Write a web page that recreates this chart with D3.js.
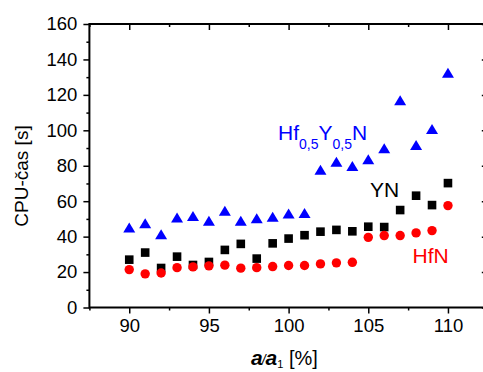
<!DOCTYPE html>
<html>
<head>
<meta charset="utf-8">
<script src="https://cdn.jsdelivr.net/npm/d3@7"></script>
<style>
	body { margin: 0; background: #fff; }
	svg { display: block; font-family: Arial, "Liberation Sans", sans-serif; }
	.axis path { display: none; }
	.axis line { stroke: #000; stroke-width: 1.5; }
	.axis text { font-size: 18.5px; fill: #000; }
</style>
</head>
<body>
<svg></svg>
<script>
// lattice parameter ratio a/a1 in %
const ratio = [90, 91, 92, 93, 94, 95, 96, 97, 98, 99, 100, 101, 102, 103, 104, 105, 106, 107, 108, 109, 110]
// CPU time in seconds
const cpuYN = [27, 31, 22.3, 28.7, 24, 25.7, 32.5, 35.9, 27.6, 36.2, 38.9, 40.8, 42.8, 43.8, 43, 45.6, 45.4, 55, 63.1, 57.8, 70.2]
const cpuHfN = [21.4, 19, 19.5, 22.5, 22.9, 23.5, 23.9, 22.2, 22.5, 23.1, 23.7, 23.7, 24.6, 25.2, 25.5, 39.6, 40.6, 40.6, 42.1, 43.4, 57.5]
const cpuHfYN = [45.1, 47.5, 41.4, 50.8, 51.7, 48.9, 54.6, 49, 50.4, 51.2, 53.1, 53.3, 77.7, 82.3, 79.8, 83.7, 89.9, 116.9, 91.7, 100.8, 132.5]

const xMajor = [90, 95, 100, 105, 110]
const xMinor = [87.5, 92.5, 97.5, 102.5, 107.5, 112.5]
const yMajor = [0, 20, 40, 60, 80, 100, 120, 140, 160]
const yMinor = [10, 30, 50, 70, 90, 110, 130, 150]

const W = 483, H = 372
const box = {left: 89.4, right: 487.8, top: 24, bottom: 307.5}

const svg = d3.select('svg').attr('width', W).attr('height', H)

const x = d3.scaleLinear().domain([87.5, 112.5]).range([box.left, box.right])
const y = d3.scaleLinear().domain([0, 160]).range([box.bottom, box.top])

// axes: major/minor ticks drawn separately, outward on bottom/left, inward on top/right
function addAxis(axis, tx, ty) {
	svg.append('g').attr('class', 'axis').attr('transform', `translate(${tx},${ty})`).call(axis)
}
addAxis(d3.axisBottom(x).tickValues(xMajor).tickSize(6).tickPadding(5), 0, box.bottom)
addAxis(d3.axisBottom(x).tickValues(xMinor).tickSize(3).tickFormat(''), 0, box.bottom)
addAxis(d3.axisLeft(y).tickValues(yMajor).tickSize(6).tickPadding(6), box.left, 0)
addAxis(d3.axisLeft(y).tickValues(yMinor).tickSize(3).tickFormat(''), box.left, 0)
addAxis(d3.axisBottom(x).tickValues(xMajor).tickSize(6).tickFormat(''), 0, box.top)
addAxis(d3.axisBottom(x).tickValues(xMinor).tickSize(3).tickFormat(''), 0, box.top)
addAxis(d3.axisLeft(y).tickValues(yMajor).tickSize(6).tickFormat(''), box.right, 0)
addAxis(d3.axisLeft(y).tickValues(yMinor).tickSize(3).tickFormat(''), box.right, 0)

svg.append('rect')
	.attr('x', box.left).attr('y', box.top)
	.attr('width', box.right - box.left).attr('height', box.bottom - box.top)
	.attr('fill', 'none').attr('stroke', '#000').attr('stroke-width', 2)

// markers
const tri = 'M0,-5L6,5L-6,5Z'
svg.append('g').selectAll('path')
	.data(ratio.map((r, i) => [r, cpuHfYN[i]]))
	.join('path')
	.attr('d', tri)
	.attr('transform', d => `translate(${x(d[0])},${y(d[1])})`)
	.attr('fill', '#0000ff')

svg.append('g').selectAll('rect')
	.data(ratio.map((r, i) => [r, cpuYN[i]]))
	.join('rect')
	.attr('x', d => x(d[0]) - 4.3).attr('y', d => y(d[1]) - 4.3)
	.attr('width', 8.6).attr('height', 8.6)
	.attr('fill', '#000')

svg.append('g').selectAll('circle')
	.data(ratio.map((r, i) => [r, cpuHfN[i]]))
	.join('circle')
	.attr('cx', d => x(d[0])).attr('cy', d => y(d[1]))
	.attr('r', 4.7)
	.attr('fill', '#ff0000')

// series labels
const lbl = svg.append('text').attr('x', 278).attr('y', 139.5)
	.attr('font-size', 21).attr('fill', '#0000ff')
lbl.append('tspan').text('Hf')
lbl.append('tspan').attr('font-size', 14).attr('dy', 9.5).text('0,5')
lbl.append('tspan').attr('dy', -9.5).text('Y')
lbl.append('tspan').attr('font-size', 14).attr('dy', 9.5).text('0,5')
lbl.append('tspan').attr('dy', -9.5).text('N')

svg.append('text').attr('x', 370).attr('y', 196.5)
	.attr('font-size', 21).attr('fill', '#000').text('YN')
svg.append('text').attr('x', 412.5).attr('y', 263)
	.attr('font-size', 21).attr('fill', '#ff0000').text('HfN')

// axis titles
svg.append('text')
	.attr('transform', 'translate(28,176) rotate(-90)')
	.attr('text-anchor', 'middle')
	.attr('font-size', 19)
	.text('CPU-čas [s]')

const xt = svg.append('text').attr('x', 251).attr('y', 365).attr('font-size', 20)
xt.append('tspan').attr('font-weight', 'bold').attr('font-style', 'italic').attr('font-size', 21).text('a')
xt.append('tspan').attr('font-size', 14).attr('font-style', 'italic').attr('dx', -1).text('/')
xt.append('tspan').attr('font-weight', 'bold').attr('font-style', 'italic').attr('font-size', 21).text('a')
xt.append('tspan').attr('font-size', 11).attr('dy', 3).text('1')
xt.append('tspan').attr('dy', -3).text(' [%]')
</script>
</body>
</html>
